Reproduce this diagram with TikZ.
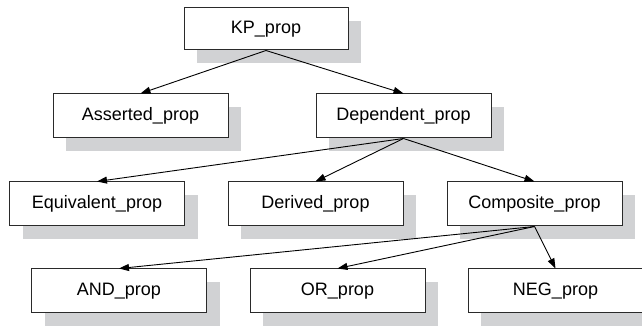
\documentclass[tikz,border=0pt]{standalone}
\usepackage{fontspec}
\setmainfont{Liberation Sans}
\usetikzlibrary{shadows,arrows.meta}
\definecolor{shadowgray}{HTML}{D1D2D4}
\definecolor{linegray}{HTML}{2A2A2A}
\begin{document}
\begin{tikzpicture}[x=1pt,y=1pt,
  propbox/.style={draw=linegray, line width=1pt, fill=white, minimum width=175pt, minimum height=44pt,
    inner sep=0pt, font=\fontsize{18}{21}\selectfont,
    drop shadow={shadow xshift=13pt, shadow yshift=-13pt, fill=shadowgray, opacity=1}},
  link/.style={draw=black, line width=0.9pt, -{Triangle[length=10pt,width=7pt]}}]
\useasboundingbox (0,0) rectangle (642,326);
\node[propbox, minimum width=164pt, minimum height=42pt] (kp) at (266,297) {KP\_prop};
\node[propbox] (as) at (140.5,210) {Asserted\_prop};
\node[propbox] (dp) at (403.5,210) {Dependent\_prop};
\node[propbox] (eq) at (97,122) {Equivalent\_prop};
\node[propbox] (dv) at (315.5,122) {Derived\_prop};
\node[propbox] (cp) at (534.5,122) {Composite\_prop};
\node[propbox] (and) at (119,35) {AND\_prop};
\node[propbox] (or) at (337.5,35) {OR\_prop};
\node[propbox] (neg) at (555.5,35) {NEG\_prop};
\draw[link] (kp.south) -- (as.north);
\draw[link] (kp.south) -- (dp.north);
\draw[link] (dp.south) -- (eq.north);
\draw[link] (dp.south) -- (dv.north);
\draw[link] (dp.south) -- (cp.north);
\draw[link] (cp.south) -- (and.north);
\draw[link] (cp.south) -- (or.north);
\draw[link] (cp.south) -- (neg.north);
\end{tikzpicture}
\end{document}
